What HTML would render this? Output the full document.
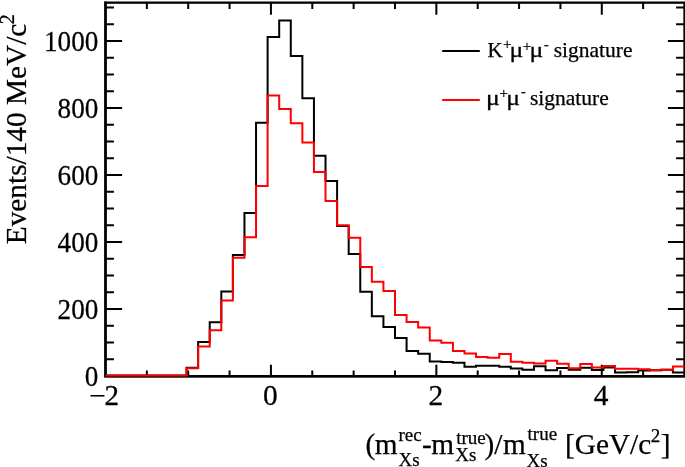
<!DOCTYPE html>
<html lang="en"><head><meta charset="utf-8"><title>Mass resolution</title>
<style>html,body{margin:0;padding:0;background:#fff;overflow:hidden}svg{display:block}</style>
</head><body>
<svg width="685" height="467" viewBox="0 0 685 467">
<rect x="0" y="0" width="685" height="467" fill="#ffffff"/>
<rect x="105.5" y="2.65" width="579.0" height="373.6" fill="none" stroke="#000" stroke-width="2.3"/>
<path d="M105.5,1.5499999999999998 V376.3 H685.5" fill="none" stroke="#000" stroke-width="2.4" stroke-linecap="butt" stroke-linejoin="miter"/>
<path d="M146.86,376.25 v-5.7 M146.86,2.65 v6.25 M188.21,376.25 v-5.7 M188.21,2.65 v6.25 M229.57,376.25 v-5.7 M229.57,2.65 v6.25 M270.93,376.25 v-11.5 M270.93,2.65 v12.05 M312.29,376.25 v-5.7 M312.29,2.65 v6.25 M353.64,376.25 v-5.7 M353.64,2.65 v6.25 M395.00,376.25 v-5.7 M395.00,2.65 v6.25 M436.36,376.25 v-11.5 M436.36,2.65 v12.05 M477.71,376.25 v-5.7 M477.71,2.65 v6.25 M519.07,376.25 v-5.7 M519.07,2.65 v6.25 M560.43,376.25 v-5.7 M560.43,2.65 v6.25 M601.79,376.25 v-11.5 M601.79,2.65 v12.05 M643.14,376.25 v-5.7 M643.14,2.65 v6.25 M105.5,359.25 h8.4 M684.5,359.25 h-8.4 M105.5,342.49 h8.4 M684.5,342.49 h-8.4 M105.5,325.74 h8.4 M684.5,325.74 h-8.4 M105.5,308.98 h16.6 M684.5,308.98 h-16.6 M105.5,292.23 h8.4 M684.5,292.23 h-8.4 M105.5,275.47 h8.4 M684.5,275.47 h-8.4 M105.5,258.72 h8.4 M684.5,258.72 h-8.4 M105.5,241.96 h16.6 M684.5,241.96 h-16.6 M105.5,225.20 h8.4 M684.5,225.20 h-8.4 M105.5,208.45 h8.4 M684.5,208.45 h-8.4 M105.5,191.69 h8.4 M684.5,191.69 h-8.4 M105.5,174.94 h16.6 M684.5,174.94 h-16.6 M105.5,158.19 h8.4 M684.5,158.19 h-8.4 M105.5,141.43 h8.4 M684.5,141.43 h-8.4 M105.5,124.67 h8.4 M684.5,124.67 h-8.4 M105.5,107.92 h16.6 M684.5,107.92 h-16.6 M105.5,91.17 h8.4 M684.5,91.17 h-8.4 M105.5,74.41 h8.4 M684.5,74.41 h-8.4 M105.5,57.65 h8.4 M684.5,57.65 h-8.4 M105.5,40.90 h16.6 M684.5,40.90 h-16.6 M105.5,24.14 h8.4 M684.5,24.14 h-8.4 M105.5,7.39 h8.4 M684.5,7.39 h-8.4" stroke="#000" stroke-width="2" fill="none"/>
<path d="M105.50,375.50 L105.50,375.50 L117.08,375.50 L117.08,375.50 L128.66,375.50 L128.66,375.50 L140.24,375.50 L140.24,375.50 L151.82,375.50 L151.82,375.50 L163.40,375.50 L163.40,375.50 L174.98,375.50 L174.98,375.50 L186.56,375.50 L186.56,367.70 L198.14,367.70 L198.14,341.90 L209.72,341.90 L209.72,322.20 L221.30,322.20 L221.30,291.44 L232.88,291.44 L232.88,254.94 L244.46,254.94 L244.46,213.10 L256.04,213.10 L256.04,122.65 L267.62,122.65 L267.62,36.92 L279.20,36.92 L279.20,20.51 L290.78,20.51 L290.78,56.01 L302.36,56.01 L302.36,98.20 L313.94,98.20 L313.94,155.81 L325.52,155.81 L325.52,180.92 L337.10,180.92 L337.10,225.90 L348.68,225.90 L348.68,254.10 L360.26,254.10 L360.26,291.77 L371.84,291.77 L371.84,316.22 L383.42,316.22 L383.42,327.02 L395.00,327.02 L395.00,338.02 L406.58,338.02 L406.58,351.05 L418.16,351.05 L418.16,353.73 L429.74,353.73 L429.74,361.43 L441.32,361.43 L441.32,362.10 L452.90,362.10 L452.90,362.77 L464.48,362.77 L464.48,366.79 L476.06,366.79 L476.06,365.79 L487.64,365.79 L487.64,365.79 L499.22,365.79 L499.22,366.70 L510.80,366.70 L510.80,368.60 L522.38,368.60 L522.38,369.75 L533.96,369.75 L533.96,366.30 L545.54,366.30 L545.54,370.14 L557.12,370.14 L557.12,367.90 L568.70,367.90 L568.70,369.81 L580.28,369.81 L580.28,367.75 L591.86,367.75 L591.86,370.00 L603.44,370.00 L603.44,367.46 L615.02,367.46 L615.02,372.60 L626.60,372.60 L626.60,372.30 L638.18,372.30 L638.18,370.48 L649.76,370.48 L649.76,370.14 L661.34,370.14 L661.34,369.81 L672.92,369.81 L672.92,372.60 L684.50,372.60" stroke="#000" stroke-width="2" fill="none" stroke-linejoin="miter"/>
<path d="M105.50,375.50 L105.50,375.50 L117.08,375.50 L117.08,375.50 L128.66,375.50 L128.66,375.50 L140.24,375.50 L140.24,375.50 L151.82,375.50 L151.82,375.50 L163.40,375.50 L163.40,375.50 L174.98,375.50 L174.98,375.50 L186.56,375.50 L186.56,368.20 L198.14,368.20 L198.14,346.50 L209.72,346.50 L209.72,330.20 L221.30,330.20 L221.30,300.60 L232.88,300.60 L232.88,257.80 L244.46,257.80 L244.46,237.15 L256.04,237.15 L256.04,185.95 L267.62,185.95 L267.62,95.52 L279.20,95.52 L279.20,108.92 L290.78,108.92 L290.78,123.32 L302.36,123.32 L302.36,142.41 L313.94,142.41 L313.94,171.88 L325.52,171.88 L325.52,201.02 L337.10,201.02 L337.10,225.30 L348.68,225.30 L348.68,237.86 L360.26,237.86 L360.26,266.99 L371.84,266.99 L371.84,281.73 L383.42,281.73 L383.42,291.11 L395.00,291.11 L395.00,315.01 L406.58,315.01 L406.58,321.92 L418.16,321.92 L418.16,327.57 L429.74,327.57 L429.74,340.50 L441.32,340.50 L441.32,342.74 L452.90,342.74 L452.90,351.05 L464.48,351.05 L464.48,353.40 L476.06,353.40 L476.06,357.08 L487.64,357.08 L487.64,357.75 L499.22,357.75 L499.22,354.07 L510.80,354.07 L510.80,361.77 L522.38,361.77 L522.38,362.85 L533.96,362.85 L533.96,363.50 L545.54,363.50 L545.54,360.76 L557.12,360.76 L557.12,363.75 L568.70,363.75 L568.70,368.13 L580.28,368.13 L580.28,364.11 L591.86,364.11 L591.86,367.46 L603.44,367.46 L603.44,366.12 L615.02,366.12 L615.02,368.80 L626.60,368.80 L626.60,368.80 L638.18,368.80 L638.18,369.30 L649.76,369.30 L649.76,370.14 L661.34,370.14 L661.34,369.81 L672.92,369.81 L672.92,366.46 L684.50,366.46" stroke="#ff0000" stroke-width="2" fill="none" stroke-linejoin="miter"/>
<g font-family="'Liberation Serif', 'Times New Roman', serif" stroke="#000" stroke-width="0.25" font-size="28" fill="#000">
<text transform="translate(98.3,386.30) scale(0.97,1.02)" text-anchor="end">0</text>
<text transform="translate(98.3,319.28) scale(0.97,1.02)" text-anchor="end">200</text>
<text transform="translate(98.3,252.26) scale(0.97,1.02)" text-anchor="end">400</text>
<text transform="translate(98.3,185.24) scale(0.97,1.02)" text-anchor="end">600</text>
<text transform="translate(98.3,118.22) scale(0.97,1.02)" text-anchor="end">800</text>
<text transform="translate(98.3,51.20) scale(0.97,1.02)" text-anchor="end">1000</text>
<text x="89.6" y="405" textLength="16.4" lengthAdjust="spacingAndGlyphs">−</text>
<text transform="translate(104.4,405) scale(1.04,1.02)">2</text>
<text transform="translate(270.33,405) scale(1.05,1.02)" text-anchor="middle">0</text>
<text transform="translate(435.76,405) scale(1.05,1.02)" text-anchor="middle">2</text>
<text transform="translate(601.19,405) scale(1.05,1.02)" text-anchor="middle">4</text>
</g>
<g font-family="'Liberation Serif', 'Times New Roman', serif" stroke="#000" stroke-width="0.25" fill="#000">
<text transform="translate(25.7,244.2) rotate(-90)" font-size="29.3">Events/140 MeV/c</text>
<text transform="translate(13.6,24.3) rotate(-90)" font-size="20">2</text>
</g>
<g font-family="'Liberation Serif', 'Times New Roman', serif" stroke="#000" stroke-width="0.25" fill="#000">
<text x="365.4" y="453.5" font-size="29.3">(</text>
<text x="374.8" y="453.5" font-size="29.3">m</text>
<text x="398.5" y="440.5" font-size="19">rec</text>
<text x="398.5" y="466.4" font-size="19">Xs</text>
<text x="421.9" y="453.5" font-size="29.3">-</text>
<text x="431.3" y="453.5" font-size="29.3">m</text>
<text x="456.2" y="443.6" font-size="19">true</text>
<text x="455.2" y="460.6" font-size="19">Xs</text>
<text x="484.4" y="453.5" font-size="29.3">)</text>
<text x="494.3" y="453.5" font-size="29.3">/</text>
<text x="503.0" y="453.5" font-size="29.3">m</text>
<text x="527.6" y="440.1" font-size="19">true</text>
<text x="526.6" y="467.0" font-size="19">Xs</text>
<text x="565.0" y="453.5" font-size="29.3">[GeV/c</text>
<text x="650.8" y="441.6" font-size="19">2</text>
<text x="660.7" y="453.5" font-size="29.3">]</text>
</g>
<path d="M442.2,51 H479.8" stroke="#000" stroke-width="2"/>
<path d="M442.2,100 H479.8" stroke="#ff0000" stroke-width="2"/>
<g font-family="'Liberation Serif', 'Times New Roman', serif" stroke="#000" stroke-width="0.25" fill="#000">
<text x="487.4" y="56.8" font-size="21">K</text>
<text x="502.9" y="49.4" font-size="15">+</text>
<text transform="translate(509.4,56.8) scale(1.17,1)" font-size="22">μ</text>
<text x="522.7" y="51.1" font-size="15">+</text>
<text transform="translate(529.6,56.8) scale(1.17,1)" font-size="22">μ</text>
<text x="543.9" y="49.0" font-size="14">-</text>
<text x="553.7" y="56.8" font-size="21.5">signature</text>
<text transform="translate(486.1,105.0) scale(1.17,1)" font-size="22">μ</text>
<text x="499.4" y="97.6" font-size="15">+</text>
<text transform="translate(506.2,105.0) scale(1.17,1)" font-size="22">μ</text>
<text x="521.1" y="95.8" font-size="14">-</text>
<text x="529.9" y="105.0" font-size="21.5">signature</text>
</g>
</svg>
</body></html>
